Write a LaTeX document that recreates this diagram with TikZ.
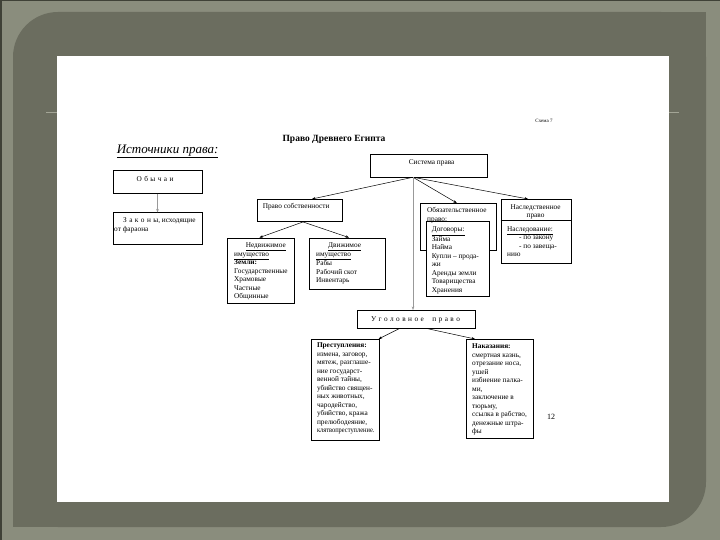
\documentclass[tikz,border=0pt]{standalone}
\usepackage{fontspec}
\usepackage{graphicx}
\setmainfont{Liberation Serif}
\usetikzlibrary{arrows.meta}
\definecolor{outerc}{HTML}{8A8D7D}
\definecolor{panelc}{HTML}{6B6D5F}
\definecolor{edgec}{HTML}{3F4137}
\definecolor{rulec}{HTML}{A3A596}
\newcommand\fs{\fontsize{7.3}{8.5}\selectfont}
\begin{document}
\begin{tikzpicture}[x=1pt,y=-1pt,
 box/.style={draw, line width=0.55pt, inner sep=0pt, anchor=north west, fill=white},
 txt/.style={inner sep=0pt, anchor=north west, align=left, font=\fs},
 ctxt/.style={inner sep=0pt, anchor=center, align=center, font=\fs},
 arr/.style={line width=0.5pt, -{Stealth[length=3.5pt,width=2.6pt]}},
 garr/.style={arr, draw=gray!80}]
% background frame
\useasboundingbox (0,0) rectangle (720,540);
\fill[outerc] (0,0) rectangle (720,540);
\fill[edgec] (0,0) rectangle (2,540);
\fill[edgec] (0,0) rectangle (720,1.5);
\fill[panelc, rounded corners=45pt] (13,12) rectangle (706,527);
\fill[panelc] (600,12) rectangle (706,110);
\fill[panelc] (13,430) rectangle (110,527);
\draw[rulec, line width=0.6pt] (46,112.6) -- (679,112.6);
\fill[white] (57,56) rectangle (669,502);

% texts outside boxes
\node[inner sep=0pt, font=\fontsize{5}{6}\selectfont] (schema) at (544,120.5) {Схема 7};
\node[inner sep=0pt, font=\fontsize{9.5}{11}\selectfont\bfseries] (title) at (334,139.5) {Право Древнего Египта};
\node[inner sep=0pt, font=\fontsize{13}{15}\selectfont\itshape] (istoch) at (167.6,151.5) {\underline{Источники права:}};
\node[inner sep=0pt, font=\fontsize{8}{9}\selectfont] (pnum) at (551,416.7) {12};

% boxes
\node[box, minimum width=89.5pt, minimum height=23pt] (obych) at (112.5,170) {};
\node[box, minimum width=89.5pt, minimum height=31pt] (zak) at (112.5,212.5) {};
\node[box, minimum width=117pt, minimum height=22.7pt] (sys) at (369.6,154) {};
\node[box, minimum width=85pt, minimum height=22.4pt] (sobst) at (257,199) {};
\node[box, minimum width=67pt, minimum height=65.4pt] (nedv) at (227,237.6) {};
\node[box, minimum width=75.8pt, minimum height=51pt] (dvizh) at (309,237.6) {};
\node[box, minimum width=76pt, minimum height=46.7pt] (obyaz) at (420,203) {};
\node[box, minimum width=63pt, minimum height=74.6pt] (dog) at (426,221.4) {};
\node[box, minimum width=70.2pt, minimum height=64.4pt] (nasl) at (500.5,199) {};
\draw[line width=0.55pt] (500.5,220.4) -- (570.7,220.4);
\node[box, minimum width=118pt, minimum height=18pt] (ugol) at (357,310) {};
\node[box, minimum width=68pt, minimum height=101pt] (prest) at (311,339) {};
\node[box, minimum width=66.6pt, minimum height=99.4pt] (nakaz) at (466,339) {};

% connectors
\draw[garr] (obych.south) -- (zak.north);
\draw[arr] ([xshift=43.4pt]sys.south west) -- ([xshift=55pt]sobst.north west);
\draw[arr] ([xshift=43.4pt]sys.south west) -- ([xshift=36.8pt]obyaz.north west);
\draw[arr] ([xshift=43.4pt]sys.south west) -- ([xshift=27.5pt]nasl.north west);
\draw[garr] ([xshift=43.4pt]sys.south west) -- ([xshift=56pt]ugol.north west);
\draw[arr] ([xshift=46pt]sobst.south west) -- ([xshift=32.4pt]nedv.north west);
\draw[arr] ([xshift=46pt]sobst.south west) -- ([xshift=40pt]dvizh.north west);
\draw[arr] ([xshift=42.4pt]ugol.south west) -- ([xshift=-1pt]prest.north east);
\draw[arr] ([xshift=70pt]ugol.south west) -- ([xshift=9pt]nakaz.north west);

% box texts
\node[ctxt] (obych-t) at (155,179) {О\,\,б\,\,ы\,\,ч\,\,а\,\,и};
\node[txt] (zak-t) at (114,217.8) {\hspace*{9pt}З\,\,а\,\,к\,\,о\,\,н\,\,ы, исходящие\\от фараона};
\node[ctxt] (sys-t) at (431.6,163.2) {Система права};
\node[txt] (sobst-t) at (262.6,203.4) {Право собственности};
\node[txt] (nedv-t) at (234,242.7) {\hspace*{11.6pt}\underline{Недвижимое}\\\underline{имущество}\\\textbf{Земли:}\\Государственные\\Храмовые\\Частные\\Общинные};
\node[txt] (dvizh-t) at (316,242.7) {\hspace*{12pt}\underline{Движимое}\\\underline{имущество}\\Рабы\\Рабочий скот\\Инвентарь};
\node[txt] (obyaz-t) at (427,207.5) {Обязательственное\\право:};
\node[txt] (dog-t) at (431.6,226.8) {\underline{Договоры:}\\Займа\\Найма\\Купли – прода-\\жи\\Аренды земли\\Товарищества\\Хранения};
\node[inner sep=0pt, anchor=north, align=center, font=\fs] (nasl-h) at (535.6,204.1) {Наследственное\\право};
\node[txt] (nasl-t) at (507,226.5) {\underline{Наследование:}\\\hspace*{12pt}- по закону\\\hspace*{12pt}- по завеща-\\нию};
\node[ctxt] (ugol-t) at (415.5,319.6) {У\,\,г\,\,о\,\,л\,\,о\,\,в\,\,н\,\,о\,\,е\quad\,п\,\,р\,\,а\,\,в\,\,о};
\node[txt] (prest-t) at (316.8,342.8) {\textbf{Преступления:}\\измена, заговор,\\мятеж, разглаше-\\ние государст-\\венной тайны,\\убийство священ-\\ных животных,\\чародейство,\\убийство, кража\\прелюбодеяние,\\\scalebox{0.88}[1]{клятвопреступление.}};
\node[txt] (nakaz-t) at (472,343.8) {\textbf{Наказания:}\\смертная казнь,\\отрезание носа,\\ушей\\избиение палка-\\ми,\\заключение в\\тюрьму,\\ссылка в рабство,\\денежные штра-\\фы};
\end{tikzpicture}
\end{document}
